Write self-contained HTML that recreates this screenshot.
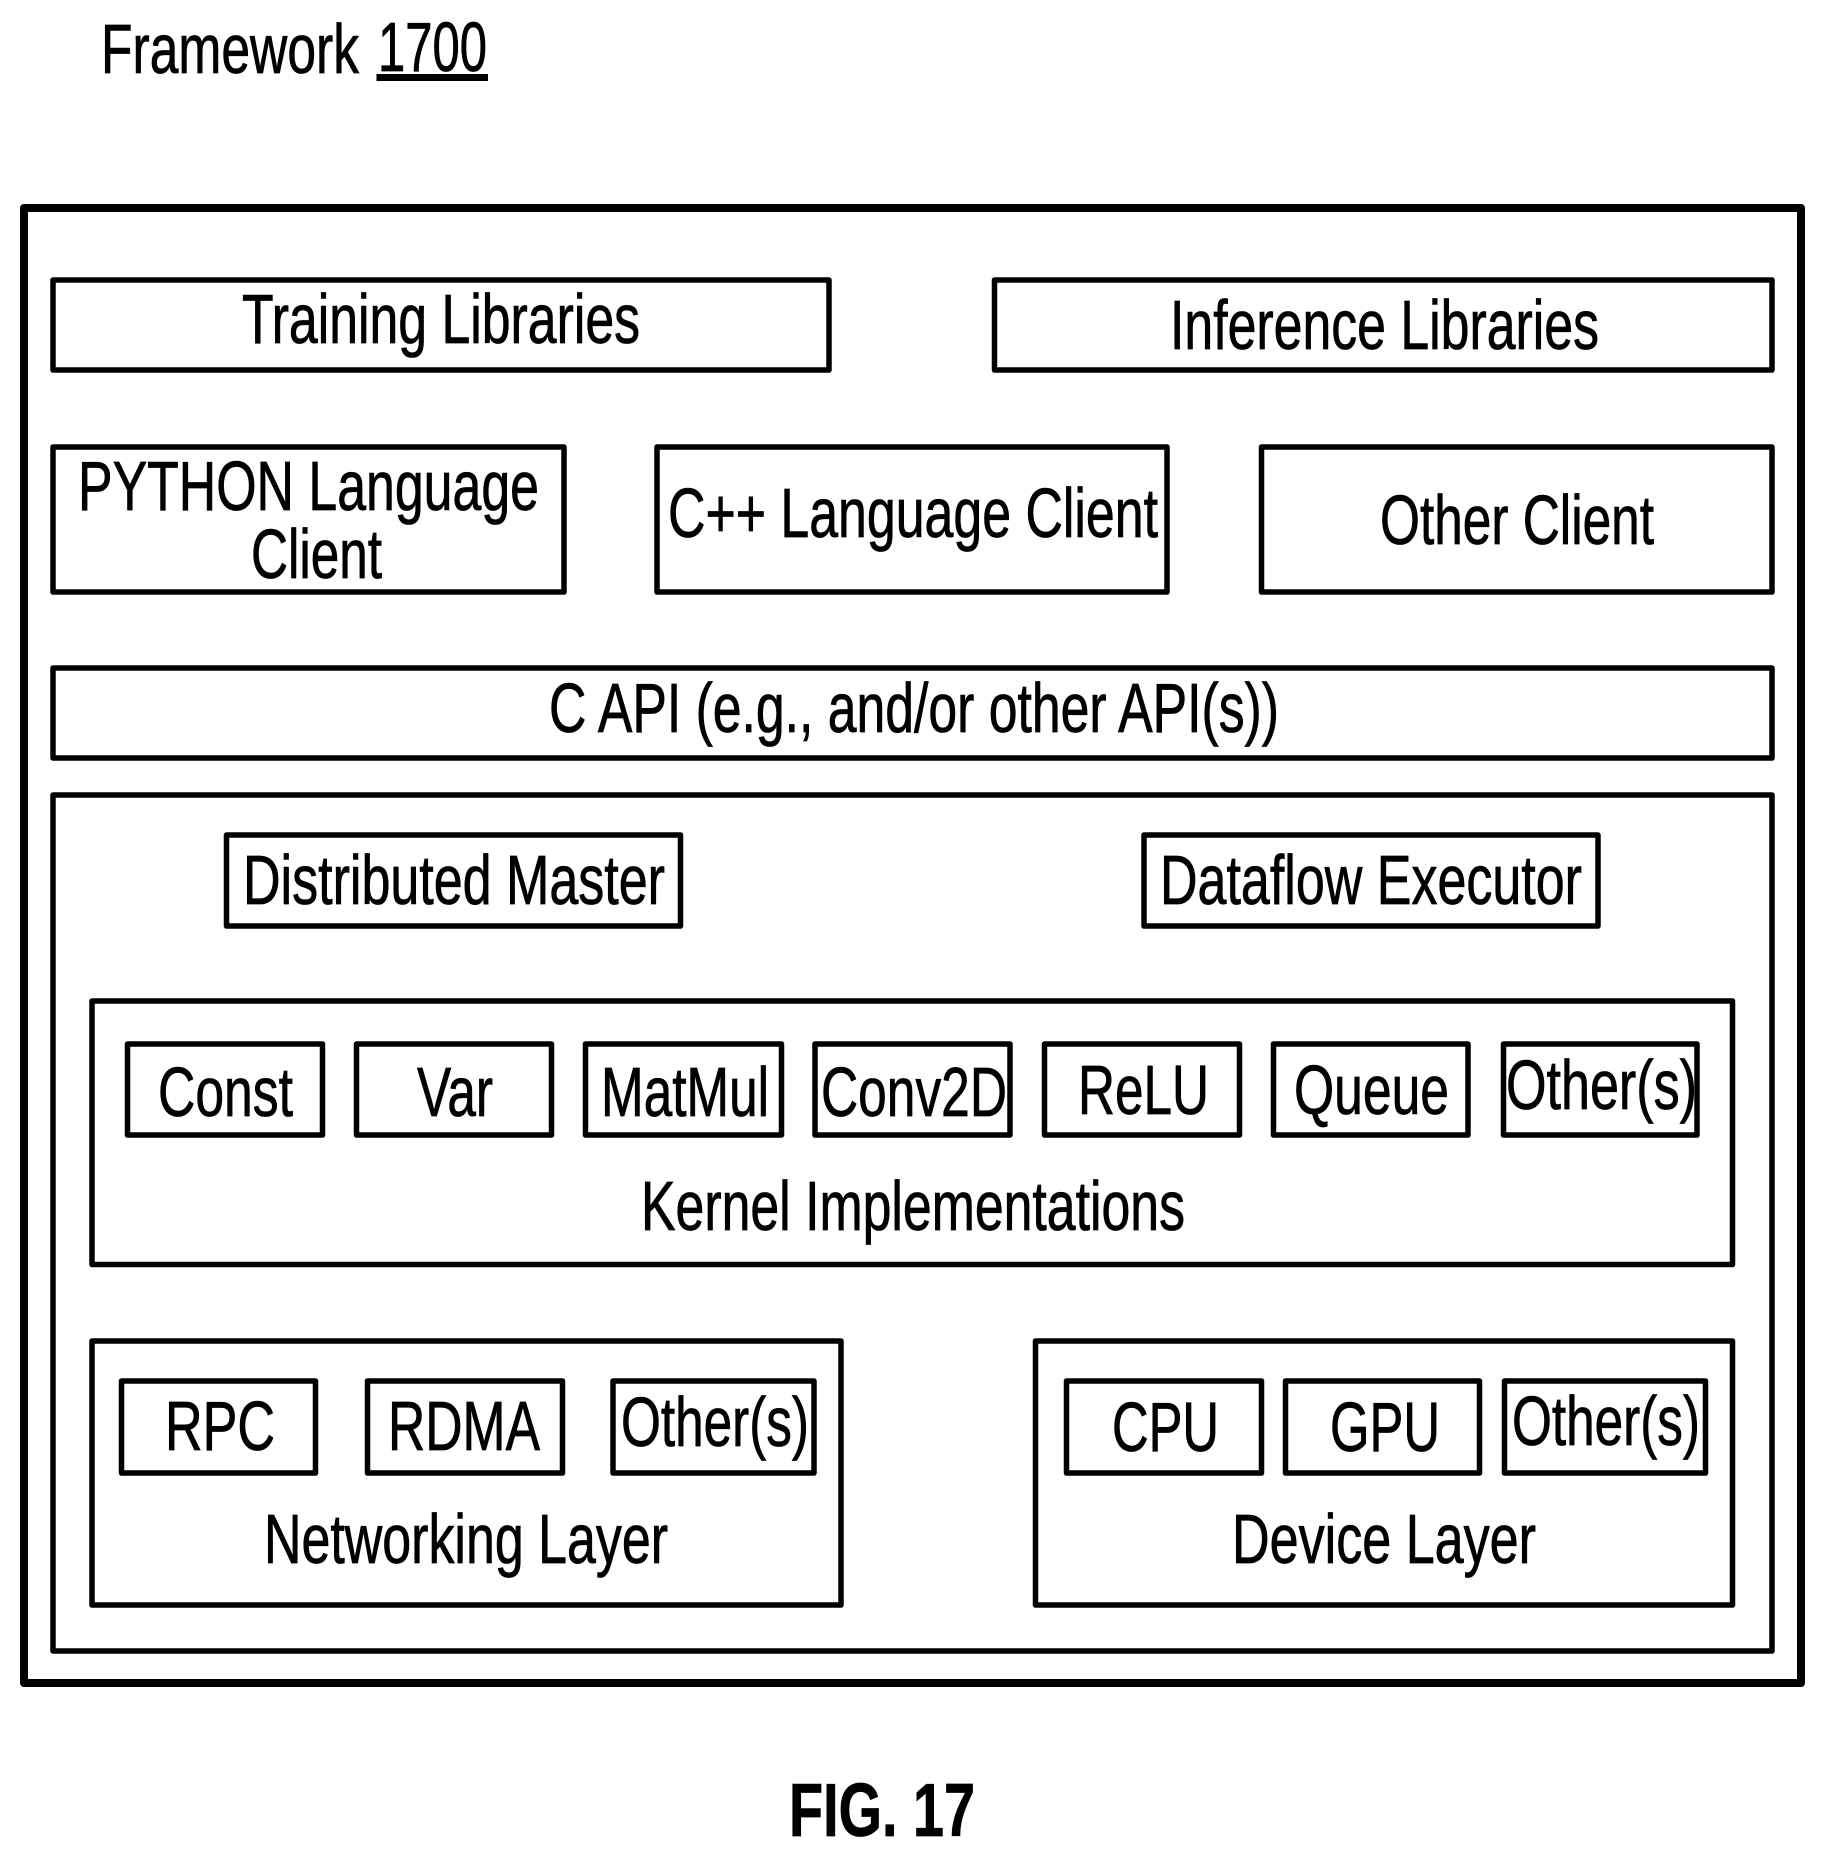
<!DOCTYPE html>
<html><head><meta charset="utf-8"><style>
html,body{margin:0;padding:0;background:#fff}
svg{display:block}
text{font-family:"Liberation Sans",sans-serif;font-size:70px;fill:#000;stroke:#000;stroke-width:.8px}
rect{fill:none;stroke:#000;stroke-width:5.5;stroke-linejoin:round}
</style></head><body>
<svg width="1822" height="1858" viewBox="0 0 1822 1858" xmlns="http://www.w3.org/2000/svg">
<rect width="1822" height="1858" style="fill:#fff;stroke:none"/>
<text x="101" y="73" textLength="258" lengthAdjust="spacingAndGlyphs">Framework</text>
<text x="378" y="71" textLength="109" lengthAdjust="spacingAndGlyphs">1700</text>
<rect x="376.500" y="74" width="111.500" height="7" style="fill:#000;stroke:none"/>
<rect x="24" y="208" width="1777" height="1475" style="stroke-width:8"/>
<rect x="53" y="280" width="776" height="90"/>
<rect x="994.500" y="280" width="777.500" height="90"/>
<rect x="53" y="447" width="511" height="145"/>
<rect x="657" y="447" width="510" height="145"/>
<rect x="1261.500" y="447" width="510.500" height="145"/>
<rect x="53" y="668" width="1719" height="90"/>
<rect x="53" y="795" width="1719" height="856"/>
<rect x="226.500" y="835" width="454" height="91"/>
<rect x="1144" y="835" width="454" height="91"/>
<rect x="92" y="1001" width="1640.500" height="263.500"/>
<rect x="127.500" y="1044" width="195" height="91"/>
<rect x="356.500" y="1044" width="195" height="91"/>
<rect x="585.500" y="1044" width="196" height="91"/>
<rect x="815" y="1044" width="195" height="91"/>
<rect x="1044.500" y="1044" width="195" height="91"/>
<rect x="1273.500" y="1044" width="194.500" height="91"/>
<rect x="1503.500" y="1044" width="193.500" height="91"/>
<rect x="92" y="1341" width="749" height="264"/>
<rect x="121.500" y="1381" width="194" height="92"/>
<rect x="367.500" y="1381" width="195" height="92"/>
<rect x="613" y="1381" width="201" height="92"/>
<rect x="1035.500" y="1341" width="697" height="264"/>
<rect x="1066.500" y="1381" width="195" height="92"/>
<rect x="1285.500" y="1381" width="194" height="92"/>
<rect x="1504.500" y="1381" width="201" height="92"/>
<text x="242" y="343" textLength="398" lengthAdjust="spacingAndGlyphs">Training Libraries</text>
<text x="1170" y="349" textLength="429" lengthAdjust="spacingAndGlyphs">Inference Libraries</text>
<text x="78" y="510" textLength="461" lengthAdjust="spacingAndGlyphs">PYTHON Language</text>
<text x="251" y="578" textLength="131" lengthAdjust="spacingAndGlyphs">Client</text>
<text x="668" y="537" textLength="490" lengthAdjust="spacingAndGlyphs">C++ Language Client</text>
<text x="1380" y="544" textLength="274" lengthAdjust="spacingAndGlyphs">Other Client</text>
<text x="549" y="732" textLength="730" lengthAdjust="spacingAndGlyphs">C API (e.g., and/or other API(s))</text>
<text x="243" y="904" textLength="422" lengthAdjust="spacingAndGlyphs">Distributed Master</text>
<text x="1160" y="904" textLength="422" lengthAdjust="spacingAndGlyphs">Dataflow Executor</text>
<text x="158" y="1116" textLength="135" lengthAdjust="spacingAndGlyphs">Const</text>
<text x="417" y="1116" textLength="76" lengthAdjust="spacingAndGlyphs">Var</text>
<text x="601" y="1116" textLength="168" lengthAdjust="spacingAndGlyphs">MatMul</text>
<text x="821" y="1116" textLength="186" lengthAdjust="spacingAndGlyphs">Conv2D</text>
<text x="1078" y="1114" textLength="131" lengthAdjust="spacingAndGlyphs">ReLU</text>
<text x="1294" y="1114" textLength="155" lengthAdjust="spacingAndGlyphs">Queue</text>
<text x="1506" y="1109" textLength="191" lengthAdjust="spacingAndGlyphs">Other(s)</text>
<text x="641" y="1230" textLength="544" lengthAdjust="spacingAndGlyphs">Kernel Implementations</text>
<text x="165" y="1450" textLength="110" lengthAdjust="spacingAndGlyphs">RPC</text>
<text x="388" y="1450" textLength="152" lengthAdjust="spacingAndGlyphs">RDMA</text>
<text x="621" y="1446" textLength="188" lengthAdjust="spacingAndGlyphs">Other(s)</text>
<text x="264" y="1563" textLength="404" lengthAdjust="spacingAndGlyphs">Networking Layer</text>
<text x="1112" y="1451" textLength="107" lengthAdjust="spacingAndGlyphs">CPU</text>
<text x="1330" y="1451" textLength="110" lengthAdjust="spacingAndGlyphs">GPU</text>
<text x="1512" y="1445" textLength="188" lengthAdjust="spacingAndGlyphs">Other(s)</text>
<text x="1232" y="1563" textLength="304" lengthAdjust="spacingAndGlyphs">Device Layer</text>
<text x="789" y="1836" textLength="186" lengthAdjust="spacingAndGlyphs" style="font-weight:bold;font-size:75px">FIG. 17</text>
</svg>
</body></html>
